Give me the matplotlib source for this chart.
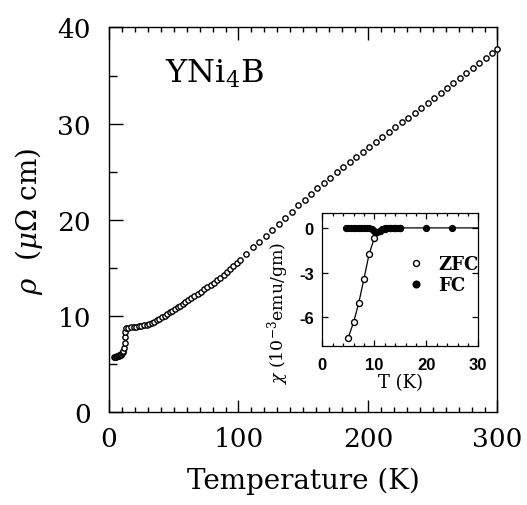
import matplotlib
matplotlib.use("Agg")
import matplotlib.pyplot as plt
from matplotlib.lines import Line2D

plt.rcParams["font.family"] = "DejaVu Serif"
plt.rcParams["mathtext.fontset"] = "dejavuserif"
plt.rcParams["axes.unicode_minus"] = False

# ── main panel: resistivity of YNi4B
# superconducting tail + transition
t_low = [4.2, 4.6, 5.0, 5.5, 6.0, 6.5, 7.0, 7.5, 8.0, 8.5, 9.0, 9.5,
         10.0, 10.5, 11.0, 11.5, 12.0, 12.3, 12.6]
rho_low = [5.75, 5.75, 5.78, 5.80, 5.82, 5.85, 5.88, 5.90, 5.93, 5.97, 6.00, 6.05,
           6.12, 6.22, 6.40, 6.70, 7.20, 7.80, 8.30]

# normal state, dense part
t_mid = [13, 15, 17, 19, 21, 23, 25, 27, 29, 31, 33, 35, 37, 39, 41, 43,
         45, 47, 49, 51, 53, 55, 57, 59,
         61, 63.5, 66, 68.5, 71, 73.5, 76, 78.5, 81, 83.5, 86, 88.5,
         91, 93.5, 96, 98.5]
rho_mid = [8.75, 8.80, 8.83, 8.87, 8.91, 8.95, 9.00, 9.05, 9.11, 9.18, 9.28, 9.42,
           9.58, 9.74, 9.90, 10.06, 10.22, 10.39, 10.56, 10.73, 10.90, 11.08, 11.26, 11.44,
           11.63, 11.86, 12.09, 12.32, 12.55, 12.78, 13.01, 13.24, 13.47, 13.71, 13.98, 14.26,
           14.55, 14.85, 15.16, 15.47]

# normal state, high temperature
t_high = [101, 106, 111, 116, 121, 126, 131, 136, 141, 146,
          151, 156, 161, 166, 171, 176, 181, 186, 191, 196,
          201, 206, 211, 216, 221, 226, 231, 236, 241, 246,
          251, 256, 261, 266, 271, 276, 281, 286, 291, 296, 300]
rho_high = [15.85, 16.5, 17.15, 17.75, 18.35, 18.95, 19.55, 20.2, 20.85, 21.5,
            22.1, 22.7, 23.3, 23.85, 24.4, 24.95, 25.5, 26.01, 26.53, 27.04,
            27.56, 28.07, 28.58, 29.1, 29.61, 30.13, 30.64, 31.15, 31.67, 32.18,
            32.7, 33.2, 33.72, 34.23, 34.74, 35.25, 35.76, 36.27, 36.78, 37.3, 37.8]

# ── inset: susceptibility, 10^-3 emu/gm
zfc_t = [5, 6, 7, 8, 9, 10, 11, 12, 13, 14, 15]
zfc_chi = [-7.35, -6.34, -5.04, -3.43, -1.75, -0.69, -0.2, -0.05, 0, 0, 0]

fc_t = [4.5, 5, 5.5, 6, 6.5, 7, 7.5, 8, 8.5, 9, 9.5, 10, 10.5, 11, 11.5,
        12, 12.5, 13, 13.5, 14, 14.5, 15, 20, 25, 30]
fc_chi = [0, 0, 0, 0, 0, 0, 0, 0, 0, 0, -0.08, -0.2, -0.3, -0.2, -0.08,
          0, 0, 0, 0, 0, 0, 0, 0, 0, 0]

temperature = t_low + t_mid + t_high
rho = rho_low + rho_mid + rho_high

fig = plt.figure(figsize=(5.27, 5.06), dpi=100)
ax = fig.add_axes([0.2068, 0.1832, 0.7372, 0.7605])

ax.plot(temperature, rho, ls="none", marker="o", ms=3.8, mfc="white",
        mec="black", mew=1.0, clip_on=False, zorder=3)

ax.set_xlim(0, 300)
ax.set_ylim(0, 40)
ax.set_xticks([0, 100, 200, 300])
ax.set_xticks(range(0, 301, 10), minor=True)
ax.set_yticks([0, 10, 20, 30, 40])
ax.set_yticks([5, 15, 25, 35], minor=True)
ax.tick_params(axis="x", which="both", direction="in", top=True, bottom=True,
               labelsize=19, pad=10)
ax.tick_params(axis="x", which="major", length=9, width=1.0)
ax.tick_params(axis="x", which="minor", length=3.5, width=1.0)
ax.tick_params(axis="y", which="both", direction="in", left=True, right=False,
               labelsize=19, pad=13)
ax.tick_params(axis="y", which="major", length=10, width=1.0)
ax.tick_params(axis="y", which="minor", length=5.5, width=1.0)
for s in ax.spines.values():
    s.set_linewidth(1.0)

ax.set_xlabel("Temperature (K)", fontsize=20, labelpad=11)
ax.set_ylabel(r"$\rho$  ($\mu\Omega$ cm)", fontsize=20, labelpad=9)
ax.text(0.144, 0.858, r"YNi$_4$B", transform=ax.transAxes, fontsize=23,
        ha="left", va="baseline")

# ── inset
ax_in = fig.add_axes([0.6116, 0.3148, 0.2960, 0.2623])
ax_in.plot(zfc_t, zfc_chi, color="black", lw=0.9, marker="o", ms=4.3,
           mfc="white", mec="black", mew=1.0, zorder=3)
ax_in.plot(fc_t, fc_chi, color="black", lw=0.9, marker="o", ms=4.2,
           mfc="black", mec="black", markevery=slice(0, len(fc_t) - 1), zorder=4)

ax_in.set_xlim(0, 30)
ax_in.set_ylim(-7.9, 1.0)
ax_in.set_xticks([0, 10, 20, 30])
ax_in.set_xticks(range(0, 31, 2), minor=True)
ax_in.set_yticks([0, -3, -6])
ax_in.tick_params(which="both", direction="in", top=True, right=True, width=0.9)
ax_in.tick_params(which="major", length=4.5, labelsize=12)
ax_in.tick_params(which="minor", length=2.5)
ax_in.tick_params(axis="x", pad=8)
ax_in.tick_params(axis="y", pad=6)
for lab in ax_in.get_xticklabels() + ax_in.get_yticklabels():
    lab.set_fontfamily("Liberation Sans")
    lab.set_fontweight("bold")
for s in ax_in.spines.values():
    s.set_linewidth(0.9)

ax_in.set_xlabel("T (K)", fontsize=13, labelpad=1)
ax_in.set_ylabel(r"$\chi$ (10$^{-3}$emu/gm)", fontsize=12.5)
ax_in.yaxis.set_label_coords(-0.2, 0.25)

handles = [
    Line2D([], [], ls="none", marker="o", ms=4.3, mfc="white", mec="black",
           mew=1.0, label="ZFC"),
    Line2D([], [], ls="none", marker="o", ms=4.8, mfc="black", mec="black",
           label="FC"),
]
ax_in.legend(handles=handles, loc="center left", bbox_to_anchor=(0.44, 0.535),
             frameon=False, handlelength=1.0, handletextpad=0.7,
             labelspacing=0.15, prop={"weight": "bold", "size": 13})

fig.savefig("out.png", dpi=100)
